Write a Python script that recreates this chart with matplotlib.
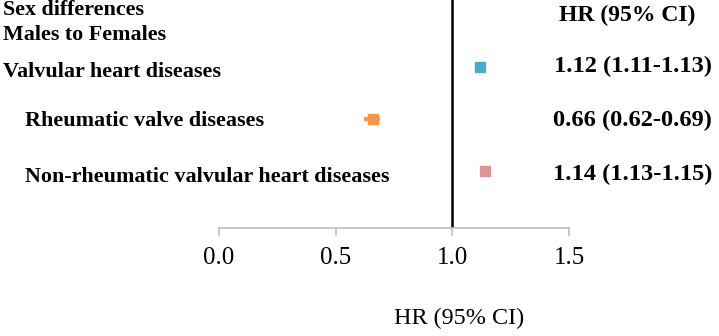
import matplotlib
matplotlib.use("Agg")
import matplotlib.pyplot as plt

categories = ["Valvular heart diseases", "Rheumatic valve diseases",
              "Non-rheumatic valvular heart diseases"]
hr = [1.12, 0.66, 1.14]
ci_low = [1.11, 0.62, 1.13]
ci_high = [1.13, 0.69, 1.15]
hr_labels = ["1.12 (1.11-1.13)", "0.66 (0.62-0.69)", "1.14 (1.13-1.15)"]
colors = ["#4BACC6", "#F79646", "#D99694"]
xticks = [0.0, 0.5, 1.0, 1.5]
xtick_labels = ["0.0", "0.5", "1.0", "1.5"]

W, H = 719, 336
plt.rcParams['font.family'] = ['Liberation Serif', 'DejaVu Serif']
fig = plt.figure(figsize=(W / 100, H / 100), dpi=100)
ax = fig.add_axes([219 / W, (H - 228) / H, 350 / W, 228 / H])


def fx(px):
    return px / W


def fy(py):
    return 1 - py / H


ypos = [0, 1, 2]
for y, v, lo, hi, c in zip(ypos, hr, ci_low, ci_high, colors):
    ax.errorbar([v], [y], xerr=[[v - lo], [hi - v]], fmt='s', color=c,
                ms=7.5, elinewidth=3, capsize=0, zorder=3)

ax.axvline(1.0, color='black', lw=1.8, zorder=2)
ax.set_xlim(0, 1.5)
ax.set_ylim(3.1, -1.29)
ax.set_yticks([])
for s in ['top', 'right', 'left']:
    ax.spines[s].set_visible(False)
ax.spines['bottom'].set_color('#BFBFBF')
ax.spines['bottom'].set_linewidth(1.2)
ax.set_xticks(xticks)
ax.set_xticklabels(xtick_labels)
ax.tick_params(axis='x', direction='out', length=6, width=1.2, color='#BFBFBF',
               labelsize=18, pad=8)

# row labels (baselines in pixels)
label_x = [3, 25, 25]
label_base = [77, 126, 182]
for lab, lx, by in zip(categories, label_x, label_base):
    fig.text(fx(lx), fy(by), lab, ha='left', va='baseline',
             fontsize=15.9, fontweight='bold')

value_base = [72, 126, 180]
for lab, by in zip(hr_labels, value_base):
    fig.text(fx(712), fy(by), lab, ha='right', va='baseline',
             fontsize=17.6, fontweight='bold')

fig.text(fx(3), fy(15), "Sex differences", ha='left', va='baseline',
         fontsize=15.8, fontweight='bold')
fig.text(fx(3), fy(40), "Males to Females", ha='left', va='baseline',
         fontsize=15.8, fontweight='bold')
fig.text(fx(627), fy(21), "HR (95% CI)", ha='center', va='baseline',
         fontsize=17, fontweight='bold')
fig.text(fx(459), fy(324), "HR (95% CI)", ha='center', va='baseline',
         fontsize=17.4)

fig.savefig("out.png", dpi=100)
